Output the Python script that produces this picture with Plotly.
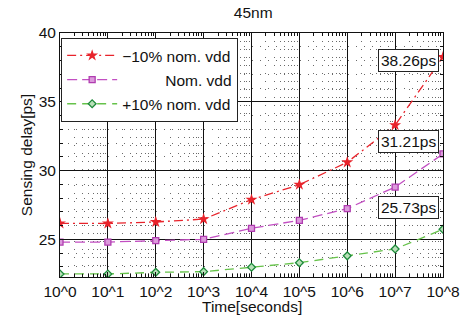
import plotly.graph_objects as go

# Aging time points (seconds) and sensing delay (ps) for three supply levels
time_s = [1e0, 1e1, 1e2, 1e3, 1e4, 1e5, 1e6, 1e7, 1e8]
tick_labels = ["10^0", "10^1", "10^2", "10^3", "10^4", "10^5", "10^6", "10^7", "10^8"]
delay_low_vdd = [26.16, 26.15, 26.26, 26.47, 27.88, 28.97, 30.6, 33.3, 38.26]
delay_nom_vdd = [24.8, 24.8, 24.9, 25.0, 25.8, 26.38, 27.23, 28.8, 31.21]
delay_high_vdd = [22.48, 22.48, 22.6, 22.65, 22.97, 23.3, 23.8, 24.3, 25.73]

FONT = "Liberation Sans, Arial, Helvetica, sans-serif"
FS = 15.5
NBSP = "\u00a0"

fig = go.Figure()

fig.add_trace(go.Scatter(
    x=time_s, y=delay_low_vdd, mode="lines+markers",
    name="\u221210% nom. vdd", legendgroup="a",
    line=dict(color="#e8232b", width=1.3, dash="9px,4px,2px,4px"),
    marker=dict(symbol="star", size=9, color="#e8232b", line=dict(width=0)),
))
fig.add_trace(go.Scatter(
    x=time_s, y=delay_nom_vdd, mode="lines+markers",
    name=NBSP * 10 + "Nom. vdd", legendgroup="b",
    line=dict(color="#c24fc2", width=1.3, dash="10px,5px"),
    marker=dict(symbol="square", size=6, color="#dc9adc",
                line=dict(color="#b03cb0", width=1.3)),
))
fig.add_trace(go.Scatter(
    x=time_s, y=delay_high_vdd, mode="lines+markers",
    name="+10% nom. vdd", legendgroup="c",
    line=dict(color="#66c24a", width=1.3, dash="9px,6px"),
    marker=dict(symbol="diamond", size=6, color="#b8e0b8",
                line=dict(color="#1c8a3a", width=1.3)),
))

# Value callouts at the last time point of each series
callout_yshift = [-4, 12, 22]
for series, ys in zip([delay_low_vdd, delay_nom_vdd, delay_high_vdd], callout_yshift):
    fig.add_annotation(
        x=8, y=series[-1], xref="x", yref="y",
        text=f"{series[-1]:.2f}ps", showarrow=False,
        xanchor="right", yanchor="middle", xshift=-4, yshift=ys,
        font=dict(family=FONT, size=FS, color="#111"),
        bgcolor="white", bordercolor="#222", borderwidth=1, borderpad=2,
    )

# x-axis title, set just below the tick labels
fig.add_annotation(
    x=0.5, y=0, xref="paper", yref="paper", text="Time[seconds]",
    showarrow=False, xanchor="center", yanchor="middle", yshift=-29,
    font=dict(family=FONT, size=FS, color="#111"),
)

minor_x = [m * 10 ** d for d in range(8) for m in range(2, 10)]

fig.update_layout(
    width=463, height=320,
    margin=dict(l=60, r=20, t=33, b=43),
    paper_bgcolor="white", plot_bgcolor="white",
    font=dict(family=FONT, size=FS, color="#111"),
    title=dict(text="45nm", x=0.547, xanchor="center", y=0.962, yanchor="middle",
               yref="container", font=dict(family=FONT, size=FS, color="#111")),
    showlegend=True,
    legend=dict(
        x=0.003, y=0.98, xanchor="left", yanchor="top",
        bgcolor="white", bordercolor="#222", borderwidth=1,
        font=dict(family=FONT, size=FS, color="#111"),
        itemwidth=50, tracegroupgap=1, traceorder="grouped",
    ),
)

fig.update_xaxes(
    type="log", range=[0, 8], automargin=False,
    tickvals=time_s, ticktext=tick_labels,
    showline=True, linecolor="#111", linewidth=1, mirror="ticks",
    ticks="inside", ticklen=5, tickcolor="#111", ticklabelstandoff=0,
    showgrid=True, gridcolor="#111", gridwidth=1,
    zeroline=False,
    tickfont=dict(family=FONT, size=FS, color="#111"),
    minor=dict(tickvals=minor_x, showgrid=True, gridcolor="#6a6a6a",
               griddash="1px,7px", gridwidth=1, ticks="inside", ticklen=3,
               tickcolor="#111"),
)
fig.update_yaxes(
    range=[22.26, 40], tick0=0, dtick=5, automargin=False,
    showline=True, linecolor="#111", linewidth=1, mirror="ticks",
    ticks="inside", ticklen=5, tickcolor="#111",
    showgrid=True, gridcolor="#111", gridwidth=1,
    zeroline=False,
    tickfont=dict(family=FONT, size=FS, color="#111"),
    title=dict(text="Sensing delay[ps]", standoff=2,
               font=dict(family=FONT, size=FS, color="#111")),
    minor=dict(dtick=1, showgrid=True, gridcolor="#6a6a6a",
               griddash="1px,7px", gridwidth=1, ticks="inside", ticklen=3,
               tickcolor="#111"),
)

fig.write_html("out.html")
